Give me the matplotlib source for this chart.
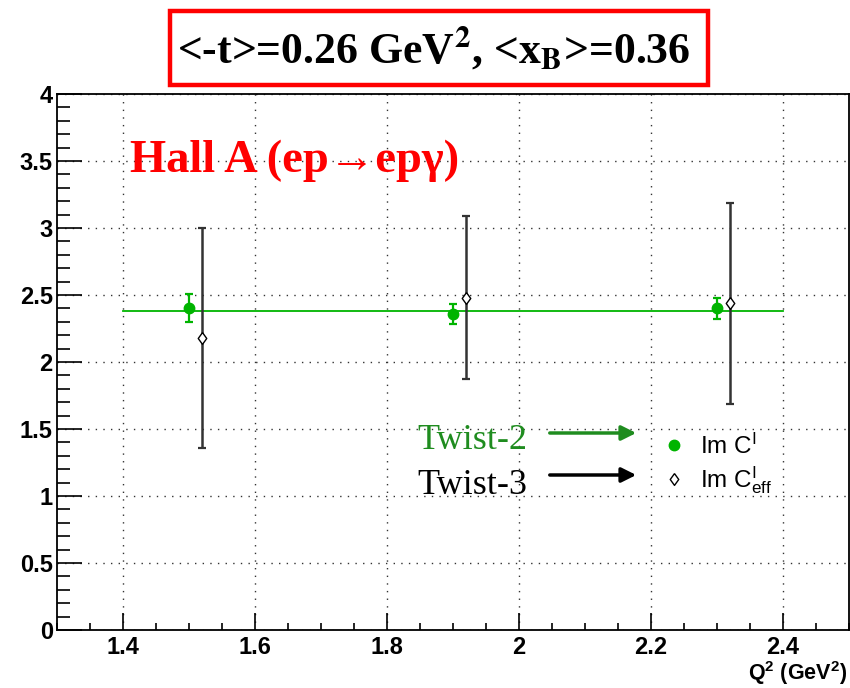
import matplotlib
matplotlib.use("Agg")
import matplotlib.pyplot as plt
from matplotlib.lines import Line2D
from matplotlib.patches import Rectangle, FancyArrowPatch
from matplotlib.ticker import MultipleLocator

plt.rcParams['mathtext.fontset'] = 'custom'
plt.rcParams['mathtext.rm'] = 'Liberation Sans'
plt.rcParams['mathtext.bf'] = 'Liberation Sans:bold'
plt.rcParams['mathtext.it'] = 'Liberation Sans:italic'

# ---- data ----
q2_tw2 = [1.50, 1.90, 2.30]
im_c = [2.40, 2.356, 2.40]
im_c_err = [0.105, 0.075, 0.08]

q2_tw3 = [1.52, 1.92, 2.32]
im_c_eff = [2.18, 2.48, 2.44]
im_c_eff_err = [0.82, 0.61, 0.75]

fit_x = [1.4, 2.4]
fit_y = [2.38, 2.38]

x_ticks = [1.4, 1.6, 1.8, 2.0, 2.2, 2.4]
x_ticklabels = ['1.4', '1.6', '1.8', '2', '2.2', '2.4']
y_ticks = [0, 0.5, 1, 1.5, 2, 2.5, 3, 3.5, 4]
y_ticklabels = ['0', '0.5', '1', '1.5', '2', '2.5', '3', '3.5', '4']

W, H = 850, 688
def fx(x):
    return x / W
def fy(y):
    return 1 - y / H

fig = plt.figure(figsize=(8.5, 6.88), dpi=100)
ax = fig.add_axes([fx(57), fy(630), fx(849) - fx(57), fy(94) - fy(630)])
ax.set_xlim(1.3, 2.5)
ax.set_ylim(0, 4)

green = '#00b400'
darkgreen = '#1f8c1f'
diamond = [(0, 1), (0.72, 0), (0, -1), (-0.72, 0), (0, 1)]

ax.plot(fit_x, fit_y, color=green, lw=1.3, zorder=3)
ax.errorbar(q2_tw3, im_c_eff, yerr=im_c_eff_err, fmt='none', ecolor='#333333',
            elinewidth=1.8, capsize=3, capthick=1.6, zorder=4)
ax.plot(q2_tw3, im_c_eff, linestyle='none', marker=diamond, markersize=8.5,
        markerfacecolor='white', markeredgecolor='black', markeredgewidth=1.0, zorder=6)
ax.errorbar(q2_tw2, im_c, yerr=im_c_err, fmt='o', color=green, ecolor=green,
            elinewidth=1.6, capsize=2.7, capthick=1.6, markersize=7.5, zorder=5)

# axes style (ROOT-like)
ax.set_xticks(x_ticks)
ax.set_xticklabels(x_ticklabels)
ax.set_yticks(y_ticks)
ax.set_yticklabels(y_ticklabels)
ax.xaxis.set_minor_locator(MultipleLocator(0.05))
ax.yaxis.set_minor_locator(MultipleLocator(0.1))
ax.tick_params(axis='x', which='major', direction='in', length=12, width=1.2, pad=4,
               top=False, labelsize=17)
ax.tick_params(axis='x', which='minor', direction='in', length=5, width=1.2, top=False)
ax.tick_params(axis='y', which='major', direction='in', length=18, width=1.2, pad=3,
               right=False, labelsize=17)
ax.tick_params(axis='y', which='minor', direction='in', length=9, width=1.2, right=False)
for lab in ax.get_xticklabels() + ax.get_yticklabels():
    lab.set_fontfamily('Liberation Sans')
    lab.set_fontweight('bold')
for sp in ax.spines.values():
    sp.set_linewidth(1.3)
ax.grid(True, which='major', color='#333333', linestyle=(0, (1, 4.5)), linewidth=1.0)
ax.set_axisbelow(True)

# x label
fig.text(fx(847), fy(680), r'Q$^{\mathbf{2}}$ (GeV$^{\mathbf{2}}$)', ha='right', va='baseline',
         fontsize=15.5, fontweight='bold', family='Liberation Sans')

# title box
fig.patches.append(Rectangle((fx(170), fy(85)), fx(708) - fx(170), fy(11) - fy(85),
                             transform=fig.transFigure, fill=False, edgecolor='red',
                             linewidth=3.2))
fig.text(fx(434), fy(49), r'<-t>=0.26 GeV$^{\mathbf{2}}$, <x$_{\mathbf{B}}$>=0.36',
         ha='center', va='center', fontsize=31.5, fontweight='bold',
         family='Liberation Serif', math_fontfamily='stix')

# Hall A
fig.text(fx(130), fy(172), 'Hall A (ep\u2192ep\u03b3)', ha='left', va='baseline',
         fontsize=33.5, fontweight='bold', color='red',
         family=['Liberation Serif', 'DejaVu Serif'])

# Twist labels and arrows
fig.text(fx(417), fy(449), 'Twist-2', ha='left', va='baseline', fontsize=26,
         color=darkgreen, family='Liberation Serif')
fig.text(fx(417), fy(494), 'Twist-3', ha='left', va='baseline', fontsize=26,
         color='black', family='Liberation Serif')
for yy, col in [(433, darkgreen), (475, 'black')]:
    fig.add_artist(FancyArrowPatch(
        (fx(547), fy(yy)), (fx(639), fy(yy)), transform=fig.transFigure,
        arrowstyle='-|>', mutation_scale=22, linewidth=2.5, color=col))

# legend
h1 = Line2D([], [], marker='o', linestyle='none', color=green, markersize=7.5)
h2 = Line2D([], [], marker=diamond, linestyle='none', markerfacecolor='white',
            markeredgecolor='black', markersize=8.5, markeredgewidth=1.0)
leg = ax.legend([h1, h2], [r'Im C$^{\mathrm{I}}$', r'Im C$^{\mathrm{I}}_{\mathrm{eff}}$'],
                loc='center left', bbox_to_anchor=(fx(650), fy(465)),
                bbox_transform=fig.transFigure, frameon=False, borderpad=0,
                handlelength=1.0, handletextpad=0.55, labelspacing=0.25,
                prop={'family': 'Liberation Sans', 'size': 17.5})

fig.savefig('out.png', dpi=100)
